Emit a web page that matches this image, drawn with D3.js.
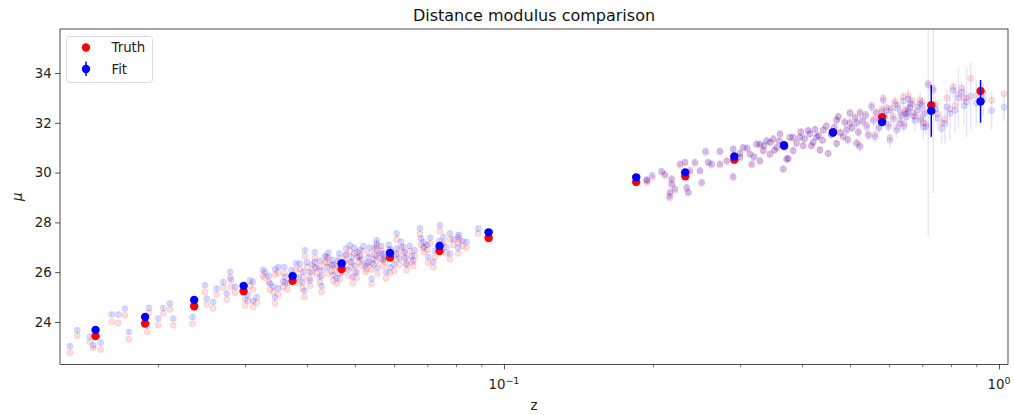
<!DOCTYPE html>
<html>
<head>
<meta charset="utf-8">
<script src="https://cdn.jsdelivr.net/npm/d3@7"></script>
<style>
  body { margin: 0; background: #fff; }
  svg { display: block; font-family: "DejaVu Sans", sans-serif; }
</style>
</head>
<body>
<svg id="chart" width="1014" height="415"></svg>
<script>
// binned values
const binZ     = [0.01496, 0.01884, 0.02367, 0.02979, 0.03741, 0.04699, 0.05886, 0.0741, 0.0931,
                  0.185, 0.2324, 0.292, 0.3679, 0.4621, 0.5808, 0.7299, 0.918];
const binTruth = [23.43, 23.94, 24.63, 25.23, 25.65, 26.13, 26.59, 26.85, 27.37,
                  29.62, 29.85, 30.52, 31.08, 31.62, 32.23, 32.71, 33.28];
const binFit   = [23.68, 24.20, 24.88, 25.45, 25.84, 26.35, 26.77, 27.05, 27.60,
                  29.81, 30.01, 30.65, 31.10, 31.61, 32.03, 32.48, 32.86];
const binErr   = [0.08, 0.07, 0.06, 0.05, 0.04, 0.04, 0.04, 0.05, 0.08,
                  0.08, 0.07, 0.06, 0.06, 0.08, 0.12, 1.04, 0.86];

// individual supernovae
const snZ = [
  0.01328, 0.01374, 0.01457, 0.01480, 0.01532, 0.01612, 0.01663, 0.01715, 0.01748, 0.01903,
  0.01918, 0.02002, 0.02050, 0.02115, 0.02147, 0.02350, 0.02489, 0.02508, 0.02586, 0.02628,
  0.02710, 0.02754, 0.02797, 0.02863, 0.03043, 0.03068, 0.03115, 0.03165, 0.03290, 0.03368,
  0.03420, 0.03447, 0.03500, 0.03611, 0.03871, 0.03931, 0.03962, 0.04055, 0.04150, 0.04248,
  0.04281, 0.04382, 0.04485, 0.04591, 0.04663, 0.04885, 0.04923, 0.05039, 0.05118, 0.05279,
  0.05403, 0.05531, 0.05531, 0.05531, 0.05705, 0.05884, 0.06070, 0.06261, 0.06360, 0.06558,
  0.06766, 0.06871, 0.07033, 0.07198, 0.07425, 0.07541, 0.07779, 0.07779, 0.08085, 0.08085,
  0.08407, 0.08872,
  0.0335, 0.0350, 0.0360, 0.0365, 0.0375, 0.0380, 0.0385, 0.0395, 0.0400, 0.0410,
  0.0415, 0.0425, 0.0435, 0.0440, 0.0450, 0.0455, 0.0465, 0.0475, 0.0480, 0.0485,
  0.0495, 0.0500, 0.0505, 0.0515, 0.0520, 0.0532, 0.0540, 0.0548, 0.0562, 0.0570,
  0.0578, 0.0585, 0.0600, 0.0608, 0.0615, 0.0630, 0.0645, 0.0652, 0.0680, 0.0700,
  0.0725, 0.0740, 0.0765, 0.0810, 0.0825, 0.0935, 0.0300, 0.0281, 0.0326, 0.0311,
  0.0345, 0.0358, 0.0372, 0.0392, 0.0405, 0.0418, 0.0428, 0.0442, 0.0452, 0.0462,
  0.0472, 0.0478, 0.0490, 0.0498, 0.0510, 0.0525, 0.0535, 0.0545, 0.0555, 0.0565,
  0.0575, 0.0590, 0.0605, 0.0620, 0.0635, 0.0660, 0.0690, 0.0710, 0.0750, 0.0790,
  0.1942, 0.1947, 0.1993, 0.2083, 0.2115, 0.2160, 0.2165, 0.2182, 0.2182, 0.2216,
  0.2268, 0.2322, 0.2340, 0.2357, 0.2376, 0.2431, 0.2489, 0.2508, 0.2555, 0.2586,
  0.2628, 0.2731, 0.2731, 0.2818, 0.2905, 0.2905, 0.2997, 0.3043, 0.3141, 0.3165,
  0.3240, 0.3290, 0.3290, 0.3341, 0.3394, 0.3447, 0.3500, 0.3556, 0.3611, 0.3666,
  0.3725, 0.3753, 0.3840, 0.3840, 0.3962, 0.4023, 0.4117, 0.4150, 0.4214, 0.4281,
  0.4348, 0.4416, 0.4520, 0.4700, 0.4700, 0.4736, 0.4847, 0.4923, 0.5000, 0.5000,
  0.5159, 0.5159, 0.5240, 0.5240, 0.5404, 0.5531, 0.5617, 0.5749, 0.5838, 0.5930,
  0.6023, 0.6164, 0.6213, 0.6310, 0.6407, 0.6458, 0.6509, 0.6559, 0.6610, 0.6766,
  0.6925, 0.7033, 0.7198, 0.7368, 0.7660, 0.7779, 0.7962, 0.8086, 0.8280, 0.8407,
  0.8604, 0.8770, 0.9665, 1.0235,
  0.300, 0.310, 0.320, 0.335, 0.345, 0.352, 0.360, 0.370, 0.378, 0.390,
  0.398, 0.405, 0.418, 0.425, 0.432, 0.440, 0.448, 0.458, 0.465, 0.478,
  0.488, 0.495, 0.505, 0.512, 0.520, 0.530, 0.538, 0.545, 0.558, 0.565,
  0.572, 0.580, 0.588, 0.598, 0.605, 0.612, 0.625, 0.635, 0.642, 0.655,
  0.668, 0.672, 0.685, 0.695, 0.700, 0.708, 0.712, 0.745, 0.752, 0.785,
  0.815, 0.850, 0.900, 0.930
];
const snTruth = [
  22.76, 23.45, 23.20, 22.95, 22.89, 24.00, 23.96, 24.27, 23.30, 23.60,
  24.36, 23.87, 24.34, 24.50, 23.87, 23.93, 25.20, 24.70, 24.54, 25.10,
  25.38, 24.90, 25.78, 25.18, 24.84, 25.45, 24.60, 24.78, 25.78, 25.30,
  25.20, 24.74, 25.98, 25.58, 26.12, 25.79, 26.64, 25.45, 26.18, 25.58,
  25.20, 26.38, 26.05, 25.54, 25.72, 26.85, 26.38, 25.78, 26.65, 26.12,
  25.52, 26.92, 26.45, 27.05, 26.52, 25.98, 27.32, 26.78, 26.08, 26.25,
  27.52, 26.98, 26.38, 26.20, 27.65, 27.18, 27.32, 26.52, 27.18, 26.75,
  26.98, 27.55,
  25.60, 25.10, 25.95, 25.30, 25.70, 26.10, 25.55, 25.00, 26.20, 26.00,
  26.55, 26.20, 26.40, 25.95, 26.30, 26.05, 26.55, 26.15, 26.70, 25.85,
  25.55, 26.00, 26.60, 26.25, 26.85, 26.40, 26.10, 26.70, 26.55, 26.25,
  25.75, 26.90, 26.05, 26.75, 26.30, 26.55, 26.85, 26.40, 27.10, 26.90,
  26.60, 27.00, 26.75, 27.30, 27.05, 27.35, 24.65, 25.40, 25.85, 25.30,
  25.90, 25.40, 25.85, 25.35, 25.75, 25.95, 25.85, 26.55, 25.65, 26.20,
  26.00, 26.45, 26.20, 26.75, 26.40, 26.00, 26.75, 26.30, 25.95, 26.85,
  26.40, 26.70, 26.50, 27.00, 26.35, 26.65, 26.80, 27.15, 26.90, 27.10,
  29.66, 29.60, 29.80, 30.00, 29.88, 28.98, 29.15, 29.70, 29.50, 29.28,
  30.30, 30.38, 29.35, 29.18, 30.02, 30.36, 30.04, 29.55, 30.80, 30.38,
  30.30, 30.82, 30.30, 30.44, 30.92, 29.80, 30.58, 30.98, 30.72, 30.30,
  31.12, 30.45, 31.10, 30.86, 31.25, 30.72, 31.32, 30.98, 31.52, 30.12,
  30.52, 30.58, 30.86, 31.38, 31.40, 31.06, 31.68, 31.55, 31.20, 31.42,
  30.92, 31.72, 30.78, 31.18, 32.12, 32.26, 31.46, 31.74, 32.42, 32.02,
  32.03, 31.22, 32.45, 31.10, 31.92, 32.72, 31.52, 32.20, 33.00, 32.62,
  31.40, 32.88, 31.82, 32.10, 33.04, 32.50, 32.36, 33.10, 32.78, 32.25,
  32.92, 32.00, 33.60, 33.40, 32.00, 32.15, 32.55, 33.45, 33.15, 33.40,
  33.00, 33.78, 32.90, 33.17,
  30.75, 30.95, 30.60, 31.05, 31.20, 30.88, 31.25, 31.00, 31.40, 31.15,
  31.65, 31.35, 31.05, 31.75, 31.50, 31.30, 31.90, 31.55, 31.85, 31.62,
  32.05, 31.35, 31.82, 32.25, 31.65, 32.10, 32.35, 31.55, 32.15, 32.45,
  31.85, 32.55, 32.30, 31.95, 32.60, 32.25, 32.70, 32.40, 31.95, 32.55,
  32.90, 32.40, 32.65, 32.20, 32.85, 32.45, 31.95, 32.75, 32.35, 33.00,
  32.70, 33.00, 33.10, 33.20
];
const snFit = [
  23.02, 23.67, 23.40, 23.06, 23.16, 24.30, 24.30, 24.54, 23.60, 23.85,
  24.56, 24.14, 24.56, 24.74, 24.14, 24.20, 25.47, 24.94, 24.80, 25.34,
  25.60, 25.14, 26.01, 25.41, 25.07, 25.67, 24.84, 25.00, 26.00, 25.54,
  25.42, 24.98, 26.21, 25.81, 26.35, 26.01, 26.88, 25.67, 26.41, 25.81,
  25.44, 26.61, 26.28, 25.77, 25.94, 27.08, 26.61, 26.00, 26.88, 26.35,
  25.74, 27.15, 26.68, 27.28, 26.75, 26.20, 27.55, 27.01, 26.30, 26.48,
  27.75, 27.21, 26.61, 26.42, 27.88, 27.41, 27.55, 26.75, 27.41, 26.98,
  27.21, 27.75,
  25.85, 25.35, 26.20, 25.55, 25.90, 26.35, 25.80, 25.25, 26.40, 26.30,
  26.80, 26.45, 26.65, 26.20, 26.50, 26.30, 26.75, 26.40, 26.95, 26.10,
  25.80, 26.25, 26.80, 26.50, 27.05, 26.60, 26.35, 26.95, 26.75, 26.50,
  26.00, 27.10, 26.30, 26.95, 26.55, 26.80, 27.05, 26.65, 27.35, 27.10,
  26.85, 27.25, 27.00, 27.50, 27.25, 27.60, 24.90, 25.70, 26.10, 25.60,
  26.12, 25.62, 26.08, 25.58, 26.00, 26.18, 26.08, 26.78, 25.88, 26.45,
  26.22, 26.68, 26.42, 26.98, 26.62, 26.25, 26.98, 26.52, 26.18, 27.05,
  26.62, 26.92, 26.72, 27.22, 26.58, 26.88, 27.02, 27.38, 27.12, 27.32,
  29.72, 29.69, 29.89, 30.06, 29.93, 29.05, 29.22, 29.76, 29.56, 29.36,
  30.36, 30.43, 29.42, 29.22, 30.09, 30.43, 30.09, 29.62, 30.87, 30.43,
  30.36, 30.87, 30.36, 30.49, 30.96, 29.85, 30.63, 31.03, 30.76, 30.36,
  31.16, 30.49, 31.16, 30.90, 31.30, 30.76, 31.37, 31.03, 31.57, 30.16,
  30.56, 30.56, 30.90, 31.43, 31.43, 31.10, 31.70, 31.57, 31.23, 31.43,
  30.90, 31.70, 30.76, 31.16, 32.10, 32.23, 31.43, 31.70, 32.37, 31.97,
  31.97, 31.16, 32.37, 31.03, 31.83, 32.63, 31.43, 32.10, 32.90, 32.50,
  31.30, 32.77, 31.70, 31.97, 32.88, 32.37, 32.23, 32.97, 32.63, 32.10,
  32.77, 31.83, 33.51, 33.31, 31.77, 31.97, 32.37, 33.31, 33.00, 33.24,
  32.84, 33.07, 32.50, 32.63,
  30.80, 31.00, 30.65, 31.10, 31.22, 30.92, 31.28, 31.05, 31.42, 31.20,
  31.62, 31.38, 31.10, 31.72, 31.48, 31.30, 31.85, 31.52, 31.80, 31.60,
  32.00, 31.30, 31.78, 32.18, 31.60, 32.05, 32.28, 31.48, 32.08, 32.38,
  31.78, 32.45, 32.20, 31.85, 32.50, 32.15, 32.58, 32.30, 31.85, 32.45,
  32.75, 32.28, 32.50, 32.10, 32.70, 32.35, 31.85, 32.55, 32.20, 32.65,
  32.50, 32.70, 32.80, 32.95
];
const snErr = [
  0.10, 0.10, 0.10, 0.10, 0.10, 0.10, 0.10, 0.10, 0.10, 0.10,
  0.10, 0.10, 0.10, 0.10, 0.10, 0.10, 0.10, 0.10, 0.10, 0.10,
  0.10, 0.10, 0.10, 0.10, 0.10, 0.10, 0.10, 0.10, 0.10, 0.10,
  0.10, 0.10, 0.10, 0.10, 0.10, 0.10, 0.10, 0.10, 0.10, 0.10,
  0.10, 0.10, 0.10, 0.10, 0.10, 0.10, 0.10, 0.10, 0.10, 0.10,
  0.10, 0.10, 0.10, 0.10, 0.10, 0.10, 0.10, 0.10, 0.10, 0.10,
  0.10, 0.10, 0.10, 0.10, 0.10, 0.10, 0.10, 0.10, 0.10, 0.10,
  0.10, 0.10,
  0.10, 0.10, 0.10, 0.10, 0.10, 0.10, 0.10, 0.10, 0.10, 0.10,
  0.10, 0.10, 0.10, 0.10, 0.10, 0.10, 0.10, 0.10, 0.10, 0.10,
  0.10, 0.10, 0.10, 0.10, 0.10, 0.10, 0.10, 0.10, 0.10, 0.10,
  0.10, 0.10, 0.10, 0.10, 0.10, 0.10, 0.10, 0.10, 0.10, 0.10,
  0.10, 0.10, 0.10, 0.10, 0.10, 0.10, 0.10, 0.10, 0.10, 0.10,
  0.10, 0.10, 0.10, 0.10, 0.10, 0.10, 0.10, 0.10, 0.10, 0.10,
  0.10, 0.10, 0.10, 0.10, 0.10, 0.10, 0.10, 0.10, 0.10, 0.10,
  0.10, 0.10, 0.10, 0.10, 0.10, 0.10, 0.10, 0.10, 0.10, 0.10,
  0.12, 0.12, 0.12, 0.12, 0.12, 0.12, 0.12, 0.12, 0.12, 0.12,
  0.12, 0.12, 0.12, 0.12, 0.12, 0.12, 0.12, 0.12, 0.12, 0.12,
  0.12, 0.12, 0.12, 0.12, 0.12, 0.12, 0.12, 0.12, 0.12, 0.12,
  0.14, 0.14, 0.14, 0.14, 0.14, 0.14, 0.14, 0.14, 0.14, 0.14,
  0.15, 0.15, 0.15, 0.15, 0.15, 0.15, 0.15, 0.15, 0.15, 0.15,
  0.16, 0.16, 0.16, 0.18, 0.18, 0.18, 0.18, 0.18, 0.20, 0.20,
  0.20, 0.20, 0.20, 0.20, 0.22, 0.22, 0.22, 0.25, 0.25, 0.25,
  0.28, 0.30, 0.30, 0.32, 0.35, 0.35, 0.38, 0.40, 0.40, 0.45,
  0.45, 0.50, 6.10, 4.15, 0.60, 0.80, 1.07, 0.30, 1.17, 0.40,
  1.40, 1.37, 0.80, 0.54,
  0.14, 0.14, 0.14, 0.14, 0.15, 0.15, 0.15, 0.15, 0.15, 0.15,
  0.16, 0.16, 0.16, 0.16, 0.16, 0.17, 0.17, 0.17, 0.17, 0.18,
  0.18, 0.18, 0.18, 0.18, 0.19, 0.19, 0.19, 0.19, 0.20, 0.20,
  0.20, 0.20, 0.20, 0.22, 0.22, 0.22, 0.22, 0.24, 0.24, 0.25,
  0.26, 0.26, 0.28, 0.28, 0.30, 0.30, 0.30, 0.50, 0.45, 0.70,
  0.90, 0.80, 0.90, 0.70
];

const majorTicks = [0.1, 1];
const majorExp = ["\u22121", "0"];
const minorTicks = [0.02, 0.03, 0.04, 0.05, 0.06, 0.07, 0.08, 0.09, 0.2, 0.3, 0.4, 0.5, 0.6, 0.7, 0.8, 0.9];
const yTicks = [24, 26, 28, 30, 32, 34];

const svg = d3.select("#chart");
const pLeft = 60, pRight = 1008, pTop = 29, pBottom = 364.5;

const x = d3.scaleLog().domain([0.01268, 1.043]).range([pLeft, pRight]);
const y = d3.scaleLinear().domain([22.29, 35.77]).range([pBottom, pTop]);

svg.append("defs").append("clipPath").attr("id", "plotclip")
  .append("rect").attr("x", pLeft).attr("y", pTop).attr("width", pRight - pLeft).attr("height", pBottom - pTop);

const plot = svg.append("g").attr("clip-path", "url(#plotclip)");

const sn = snZ.map((z, i) => ({ z: z, truth: snTruth[i], fit: snFit[i], err: snErr[i] }));
const bins = binZ.map((z, i) => ({ z: z, truth: binTruth[i], fit: binFit[i], err: binErr[i] }));

// faint truth
plot.append("g").selectAll("circle").data(sn).enter().append("circle")
  .attr("cx", d => x(d.z)).attr("cy", d => y(d.truth)).attr("r", 3)
  .attr("fill", "red").attr("fill-opacity", 0.12)
  .attr("stroke", "red").attr("stroke-opacity", 0.12).attr("stroke-width", 1);

// faint fit with error bars
plot.append("g").selectAll("line").data(sn).enter().append("line")
  .attr("x1", d => x(d.z)).attr("x2", d => x(d.z))
  .attr("y1", d => y(d.fit - d.err)).attr("y2", d => y(d.fit + d.err))
  .attr("stroke", "blue").attr("stroke-opacity", 0.1).attr("stroke-width", 1.5);
plot.append("g").selectAll("circle").data(sn).enter().append("circle")
  .attr("cx", d => x(d.z)).attr("cy", d => y(d.fit)).attr("r", 3)
  .attr("fill", "blue").attr("fill-opacity", 0.12)
  .attr("stroke", "blue").attr("stroke-opacity", 0.12).attr("stroke-width", 1);

// binned truth
plot.append("g").selectAll("circle").data(bins).enter().append("circle")
  .attr("cx", d => x(d.z)).attr("cy", d => y(d.truth)).attr("r", 4.2)
  .attr("fill", "red");

// binned fit
plot.append("g").selectAll("line").data(bins).enter().append("line")
  .attr("x1", d => x(d.z)).attr("x2", d => x(d.z))
  .attr("y1", d => y(d.fit - d.err)).attr("y2", d => y(d.fit + d.err))
  .attr("stroke", "blue").attr("stroke-width", 1.5);
plot.append("g").selectAll("circle").data(bins).enter().append("circle")
  .attr("cx", d => x(d.z)).attr("cy", d => y(d.fit)).attr("r", 4.2)
  .attr("fill", "blue");

// axes
const yAxis = svg.append("g").attr("transform", `translate(${pLeft},0)`)
  .call(d3.axisLeft(y).tickValues(yTicks).tickSize(4.9).tickPadding(3.5).tickFormat(d3.format("d")));
yAxis.select(".domain").remove();
yAxis.selectAll("line").attr("stroke", "#222").attr("stroke-width", 0.8);
yAxis.selectAll("text").attr("font-size", 13.3).attr("fill", "#222").attr("font-family", "DejaVu Sans");

const xMinor = svg.append("g").attr("transform", `translate(0,${pBottom})`)
  .call(d3.axisBottom(x).tickValues(minorTicks).tickSize(2.8).tickFormat(""));
xMinor.select(".domain").remove();
xMinor.selectAll("line").attr("stroke", "#222").attr("stroke-width", 0.6);

const xMajor = svg.append("g").attr("transform", `translate(0,${pBottom})`)
  .call(d3.axisBottom(x).tickValues(majorTicks).tickSize(4.9).tickFormat(""));
xMajor.select(".domain").remove();
xMajor.selectAll("line").attr("stroke", "#222").attr("stroke-width", 0.8);

majorTicks.forEach((t, i) => {
  const txt = svg.append("text").attr("x", x(t)).attr("y", pBottom + 24.5)
    .attr("text-anchor", "middle").attr("font-size", 13.3).attr("fill", "#222");
  txt.append("tspan").text("10");
  txt.append("tspan").attr("dy", -5.5).attr("font-size", 9.5).text(majorExp[i]);
});

// frame
svg.append("rect").attr("x", pLeft).attr("y", pTop).attr("width", pRight - pLeft).attr("height", pBottom - pTop)
  .attr("fill", "none").attr("stroke", "#222").attr("stroke-width", 0.8);

// labels
svg.append("text").attr("x", (pLeft + pRight) / 2).attr("y", 20.5).attr("text-anchor", "middle")
  .attr("font-size", 16).attr("fill", "#111").text("Distance modulus comparison");
svg.append("text").attr("x", (pLeft + pRight) / 2).attr("y", 410).attr("text-anchor", "middle")
  .attr("font-size", 13.3).attr("fill", "#222").text("z");
svg.append("text").attr("transform", `translate(22,${(pTop + pBottom) / 2}) rotate(-90)`)
  .attr("text-anchor", "middle").attr("font-size", 13.3).attr("font-style", "italic").attr("fill", "#222").text("μ");

// legend
const lg = svg.append("g");
lg.append("rect").attr("x", 66.5).attr("y", 36.5).attr("width", 86).attr("height", 46).attr("rx", 3)
  .attr("fill", "#fff").attr("fill-opacity", 0.8).attr("stroke", "#d0d0d0").attr("stroke-width", 0.8);
lg.append("circle").attr("cx", 86).attr("cy", 47.5).attr("r", 4.2).attr("fill", "red");
lg.append("line").attr("x1", 86).attr("x2", 86).attr("y1", 61.5).attr("y2", 76).attr("stroke", "blue").attr("stroke-width", 1.5);
lg.append("circle").attr("cx", 86).attr("cy", 69).attr("r", 4.2).attr("fill", "blue");
lg.append("text").attr("x", 111.5).attr("y", 52.2).attr("font-size", 13.3).attr("fill", "#222").text("Truth");
lg.append("text").attr("x", 111.5).attr("y", 73.8).attr("font-size", 13.3).attr("fill", "#222").text("Fit");
</script>
</body>
</html>
